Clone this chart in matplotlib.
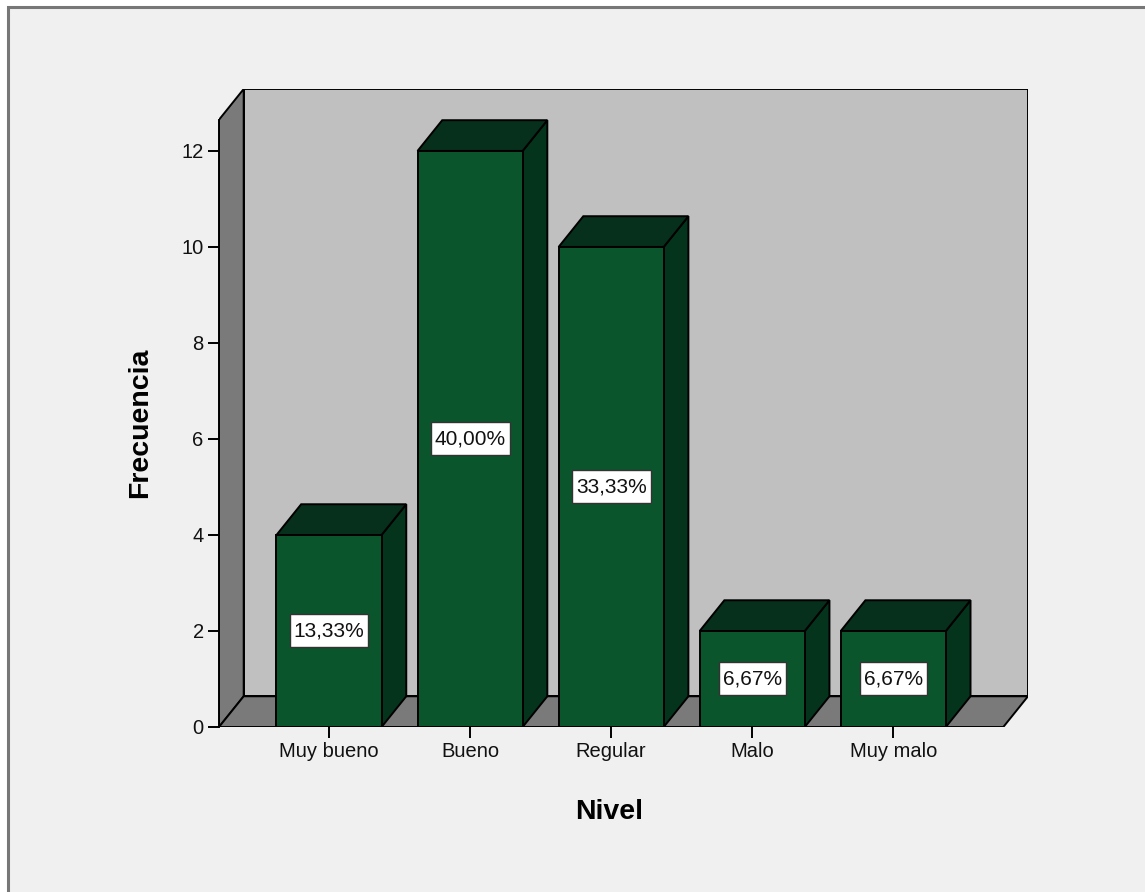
import matplotlib
matplotlib.use('Agg')
import matplotlib.pyplot as plt
from matplotlib.patches import Polygon, Rectangle

# data
niveles = ['Muy bueno', 'Bueno', 'Regular', 'Malo', 'Muy malo']
frecuencia = [4, 12, 10, 2, 2]
porcentaje = ['13,33%', '40,00%', '33,33%', '6,67%', '6,67%']
yticks = [0, 2, 4, 6, 8, 10, 12]

plt.rcParams['font.family'] = ['Liberation Sans', 'DejaVu Sans']

W, H = 1145, 892
fig = plt.figure(figsize=(W / 100, H / 100), dpi=100, facecolor='white')

# outer frame of the viewer
fig.patches.append(Rectangle((8 / W, -0.02), 1.05, 1 - 7 / H + 0.02,
                             transform=fig.transFigure, facecolor='#f0f0f0',
                             edgecolor='#777777', linewidth=2.2, zorder=-10))

ax = fig.add_axes([219 / W, 1 - 727 / H, (1028 - 219) / W, (727 - 89) / H])
ax.patch.set_visible(False)

x0, x1 = -0.78, 4.78      # front plane extent
ymax = 12.65
ddx, ddy = 0.175, 0.64    # depth offset
bw = 0.745
lw = 1.4

ax.set_xlim(x0, x1 + ddx)
ax.set_ylim(0, ymax + ddy)

def poly(pts, fc, z=1):
    ax.add_patch(Polygon(pts, closed=True, facecolor=fc, edgecolor='black',
                         linewidth=lw, zorder=z, joinstyle='miter'))

# walls and floor
poly([(x0 + ddx, ddy), (x1 + ddx, ddy), (x1 + ddx, ymax + ddy), (x0 + ddx, ymax + ddy)], '#c0c0c0')
poly([(x0, 0), (x0 + ddx, ddy), (x0 + ddx, ymax + ddy), (x0, ymax)], '#7a7a7a')
poly([(x0, 0), (x1, 0), (x1 + ddx, ddy), (x0 + ddx, ddy)], '#7a7a7a')

# 3d bars
labels = []
for i, v in enumerate(frecuencia):
    l, r = i - bw / 2, i + bw / 2
    poly([(r, 0), (r + ddx, ddy), (r + ddx, v + ddy), (r, v)], '#05341d', 2)
    poly([(l, v), (r, v), (r + ddx, v + ddy), (l + ddx, v + ddy)], '#06301b', 2)
    poly([(l, 0), (r, 0), (r, v), (l, v)], '#0b552d', 2)
    t = ax.text(i, v / 2, porcentaje[i], ha='center', va='center', fontsize=15,
                color='#111111', zorder=4)
    labels.append(t)

for s in ['top', 'right', 'bottom']:
    ax.spines[s].set_visible(False)
ax.spines['left'].set_bounds(0, ymax)
ax.spines['left'].set_linewidth(lw)
ax.spines['left'].set_zorder(2)

ax.set_yticks(yticks)
ax.set_xticks(range(len(niveles)))
ax.set_xticklabels(niveles)
ax.tick_params(axis='both', labelsize=14.5, length=8, width=1.4, color='black',
               pad=3, labelcolor='#111111')

ax.set_ylabel('Frecuencia', fontsize=20.5, fontweight='bold')
ax.set_xlabel('Nivel', fontsize=20.5, fontweight='bold')
ax.xaxis.set_label_coords((609 - 219) / (1028 - 219), -(799 - 727) / (727 - 89))
ax.yaxis.set_label_coords(-(219 - 153) / (1028 - 219), (727 - 423) / (727 - 89))

# white boxes behind the percentage labels (taller than wide padding)
fig.canvas.draw()
rend = fig.canvas.get_renderer()
for t in labels:
    bb = t.get_window_extent(rend)
    px, py = 4, 7
    ax.add_patch(Rectangle((bb.x0 - px, bb.y0 - py), bb.width + 2 * px,
                           bb.height + 2 * py, transform=None,
                           facecolor='white', edgecolor='#333333',
                           linewidth=1.0, zorder=3))

fig.savefig('out.png', dpi=100, facecolor='white')
